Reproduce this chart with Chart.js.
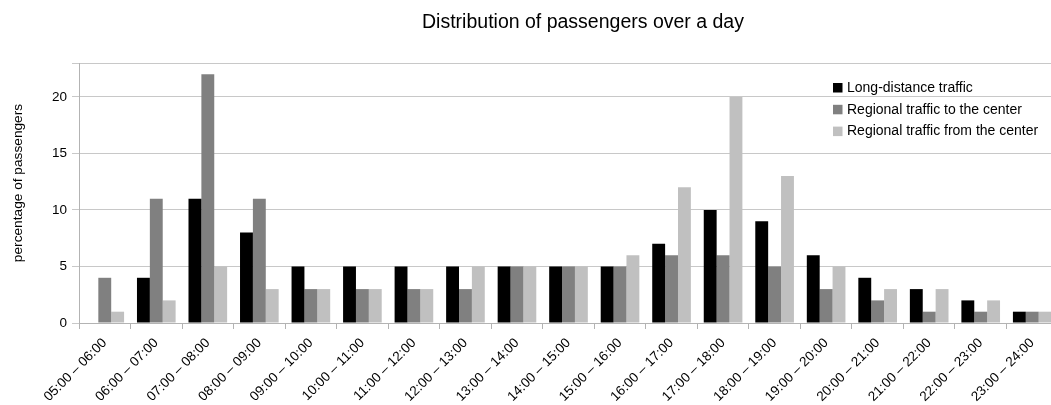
<!DOCTYPE html>
<html>
<head>
<meta charset="utf-8">
<script src="https://cdn.jsdelivr.net/npm/chart.js@4"></script>
<style>
  html, body { margin: 0; padding: 0; background: #fff; overflow: hidden; }
  #wrap { position: relative; width: 1166px; height: 405px; }
</style>
</head>
<body>
<div id="wrap"><canvas id="c"></canvas></div>
<script>
const categories = [
  "05:00 – 06:00", "06:00 – 07:00", "07:00 – 08:00", "08:00 – 09:00",
  "09:00 – 10:00", "10:00 – 11:00", "11:00 – 12:00", "12:00 – 13:00",
  "13:00 – 14:00", "14:00 – 15:00", "15:00 – 16:00", "16:00 – 17:00",
  "17:00 – 18:00", "18:00 – 19:00", "19:00 – 20:00", "20:00 – 21:00",
  "21:00 – 22:00", "22:00 – 23:00", "23:00 – 24:00"
];
const longDistance   = [0, 4, 11, 8, 5, 5, 5, 5, 5, 5, 5, 7, 10, 9, 6, 4, 3, 2, 1];
const regionalTo     = [4, 11, 22, 11, 3, 3, 3, 3, 5, 5, 5, 6, 6, 5, 3, 2, 1, 1, 1];
const regionalFrom   = [1, 2, 5, 3, 3, 3, 3, 5, 5, 5, 6, 12, 20, 13, 5, 3, 3, 2, 1];
const seriesNames    = ["Long-distance traffic", "Regional traffic to the center", "Regional traffic from the center"];
const yTickValues    = [0, 5, 10, 15, 20];
const yMax           = 23;
const chartTitle     = "Distribution of passengers over a day";
const yAxisTitle     = "percentage of passengers";

const FONT = "'Liberation Sans', Arial, sans-serif";
const colors = ["#000000", "#808080", "#c0c0c0"];

const yTitlePlugin = {
  id: 'yTitle',
  afterDraw(chart) {
    const ctx = chart.ctx;
    ctx.save();
    ctx.translate(18, chart.chartArea.top + 120);
    ctx.rotate(-Math.PI / 2);
    ctx.font = "13.7px " + FONT;
    ctx.fillStyle = "#000";
    ctx.textAlign = "center";
    ctx.textBaseline = "middle";
    ctx.fillText(yAxisTitle, 0, 0);
    ctx.restore();
  }
};

const legendPlugin = {
  id: 'innerLegend',
  afterDraw(chart) {
    const ctx = chart.ctx;
    const x0 = 833, y0 = chart.chartArea.top + 24.5, step = 21.8;
    ctx.save();
    ctx.font = "14px " + FONT;
    ctx.textBaseline = "middle";
    ctx.textAlign = "left";
    chart.data.datasets.forEach((ds, i) => {
      const y = y0 + i * step;
      ctx.fillStyle = ds.backgroundColor;
      ctx.fillRect(x0, y - 4.5, 9.5, 9.5);
      ctx.fillStyle = "#000";
      ctx.fillText(ds.label, x0 + 14, y + 0.5);
    });
    ctx.restore();
  }
};

new Chart(document.getElementById('c'), {
  type: 'bar',
  data: {
    labels: categories,
    datasets: [
      { label: seriesNames[0], data: longDistance, backgroundColor: colors[0] },
      { label: seriesNames[1], data: regionalTo, backgroundColor: colors[1] },
      { label: seriesNames[2], data: regionalFrom, backgroundColor: colors[2] }
    ]
  },
  options: {
    responsive: true,
    maintainAspectRatio: false,
    animation: false,
    devicePixelRatio: 1,
    layout: { padding: 0 },
    datasets: { bar: { categoryPercentage: 0.75, barPercentage: 1.0, borderWidth: 0 } },
    plugins: {
      legend: { display: false },
      tooltip: { enabled: false },
      title: {
        display: true,
        text: chartTitle,
        color: "#000",
        font: { family: FONT, size: 19.5, weight: 'normal' },
        padding: { top: 10.5, bottom: 29.1 }
      }
    },
    scales: {
      x: {
        grid: { display: true, offset: true, drawOnChartArea: false, tickLength: 6, color: "#b3b3b3" },
        border: { display: true, color: "#b3b3b3" },
        ticks: { color: "#000", font: { family: FONT, size: 13.5 }, maxRotation: 45, minRotation: 45, autoSkip: false, padding: 6 },
        afterFit(scale) { scale.height = 82; scale.paddingLeft = 0; scale.paddingRight = 0; }
      },
      y: {
        min: 0,
        max: yMax,
        afterBuildTicks(scale) {
          scale.ticks = yTickValues.concat([yMax]).map(v => ({ value: v }));
        },
        grid: { color: "#c8c8c8", tickLength: 7 },
        border: { display: true, color: "#b3b3b3" },
        ticks: {
          color: "#000",
          font: { family: FONT, size: 13.5 },
          padding: 5,
          callback(v) { return yTickValues.includes(v) ? String(v) : ''; }
        },
        afterFit(scale) { scale.width = 79; }
      },
      yRightSpace: {
        position: 'right',
        display: true,
        grid: { display: false, drawOnChartArea: false },
        border: { display: false },
        ticks: { display: false },
        afterFit(scale) { scale.width = 108; }
      }
    }
  },
  plugins: [yTitlePlugin, legendPlugin]
});
</script>
</body>
</html>
